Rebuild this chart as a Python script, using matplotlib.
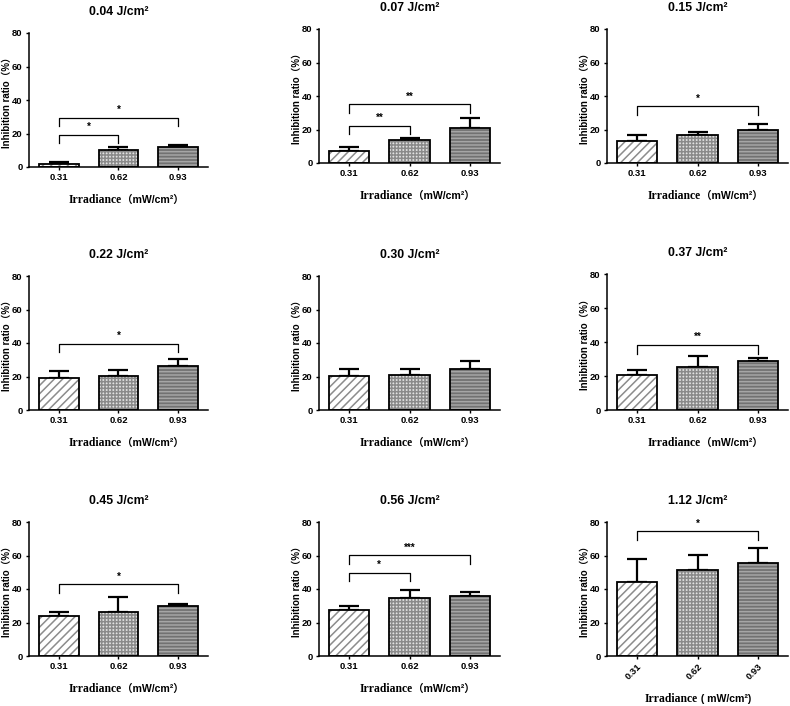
import matplotlib
matplotlib.use("Agg")
import matplotlib.pyplot as plt
import numpy as np

plt.rcParams['hatch.linewidth'] = 1.1

doses = ['0.04', '0.07', '0.15', '0.22', '0.30', '0.37', '0.45', '0.56', '1.12']
irradiance = ['0.31', '0.62', '0.93']

mean_031 = [2.0, 7.4, 12.9, 19.2, 20.2, 20.4, 23.8, 27.4, 44.2]
mean_062 = [10.2, 14.0, 16.7, 20.2, 20.8, 25.5, 26.2, 34.9, 51.6]
mean_093 = [11.8, 20.9, 19.5, 26.2, 24.6, 28.9, 30.0, 36.1, 55.6]
sd_031 = [1.0, 2.0, 4.0, 3.8, 4.0, 3.4, 2.4, 2.4, 13.9]
sd_062 = [1.6, 0.7, 1.6, 3.6, 3.4, 6.5, 9.3, 4.6, 8.7]
sd_093 = [1.6, 6.1, 4.0, 4.2, 4.6, 1.4, 1.0, 2.2, 8.9]

# significance brackets per panel: (from, to, height, label)
brackets = [
    [(0, 1, 19.4, '*'), (0, 2, 29.4, '*')],
    [(0, 1, 22.3, '**'), (0, 2, 35.2, '**')],
    [(0, 2, 33.8, '*')],
    [(0, 2, 39.7, '*')],
    [],
    [(0, 2, 38.3, '**')],
    [(0, 2, 42.7, '*')],
    [(0, 1, 49.8, '*'), (0, 2, 60.3, '***')],
    [(0, 2, 74.4, '*')],
]

W, H = 790, 706
fig = plt.figure(figsize=(W / 100, H / 100), dpi=100)

# pixel boxes (left, top, right, bottom)
boxes = [
    (29, 33, 208, 167), (319, 29, 500, 163), (607, 29, 788, 163),
    (29, 276, 208, 410), (319, 276, 500, 410), (607, 274, 788, 410),
    (29, 522, 208, 656), (319, 522, 500, 656), (607, 522, 788, 656),
]

fills = ['white', '#e2e2e2', '#727272']
hatch_cols = ['#8c8c8c', '#8a8a8a', '#a6a6a6']
hatches = ['////', '+++++', '-----']

sans_cjk = ['Liberation Sans', 'Noto Sans CJK SC']
serif_cjk = ['Liberation Serif', 'Noto Sans CJK SC']

x = np.arange(3)
bw = 0.67
for k in range(9):
    l, t, r, b = boxes[k]
    ax = fig.add_axes([l / W, 1 - b / H, (r - l) / W, (b - t) / H])
    vals = [mean_031[k], mean_062[k], mean_093[k]]
    errs = [sd_031[k], sd_062[k], sd_093[k]]
    for i in range(3):
        ax.bar(x[i], vals[i], width=bw, color=fills[i], edgecolor=hatch_cols[i],
               hatch=hatches[i], linewidth=0, zorder=2)
        ax.bar(x[i], vals[i], width=bw, fill=False, edgecolor='black',
               linewidth=1.3, zorder=3)
    ax.errorbar(x, vals, yerr=[np.zeros(3), errs], fmt='none', ecolor='black',
                elinewidth=1.6, capsize=7.5, capthick=1.6, zorder=1)
    for (i, j, y, lab) in brackets[k]:
        ax.plot([x[i], x[i], x[j], x[j]], [y - 5.2, y, y, y - 5.2],
                color='black', lw=0.9, zorder=4, clip_on=False)
        ax.text((x[i] + x[j]) / 2, y + 1.5, lab, ha='center', va='bottom',
                fontsize=7, fontweight='bold', family=sans_cjk)
    ax.set_xlim(-0.5, 2.5)
    ax.set_ylim(0, 80)
    ax.set_yticks([0, 20, 40, 60, 80])
    ax.set_xticks(x)
    ax.spines['top'].set_visible(False)
    ax.spines['right'].set_visible(False)
    ax.spines['left'].set_linewidth(1.1)
    ax.spines['bottom'].set_linewidth(1.1)
    ax.tick_params(length=2.5, width=1.0, pad=2)
    ax.set_yticklabels(['0', '20', '40', '60', '80'], fontsize=6.8,
                       fontweight='bold', family=sans_cjk)
    hpx = b - t
    wpx = r - l
    if k == 8:
        ax.set_xticklabels(irradiance, rotation=45, ha='right',
                           rotation_mode='anchor', fontsize=6.8, fontweight='bold',
                           family=sans_cjk)
    else:
        ax.set_xticklabels(irradiance, fontsize=6.8, fontweight='bold', family=sans_cjk)
    # title
    ax.text(0.5, 1 + 21 / hpx, doses[k] + ' J/cm²', transform=ax.transAxes,
            ha='center', va='center', fontsize=8.8, fontweight='bold', family=sans_cjk)
    # y label
    ax.text(-22 / wpx, 0.5, 'Inhibition ratio（%）', transform=ax.transAxes,
            rotation=90, ha='center', va='center', fontsize=7, fontweight='bold',
            family=sans_cjk)
    # x label (serif word + sans unit, sharing a baseline)
    if k == 8:
        ylab = -46 / hpx
        xsplit = 0.5
        unit = ' ( mW/cm²)'
    else:
        ylab = -36 / hpx
        xsplit = 0.52
        unit = '（mW/cm²）'
    t1 = ax.text(xsplit, ylab, 'Irradiance', transform=ax.transAxes,
                 ha='right', va='baseline', fontsize=8.4, fontweight='bold',
                 family=serif_cjk)
    ax.annotate(unit, xy=(1, ylab), xycoords=(t1, ax.transAxes), ha='left',
                va='baseline', fontsize=7.6, fontweight='bold', family=sans_cjk)

fig.savefig('out.png', dpi=100)
